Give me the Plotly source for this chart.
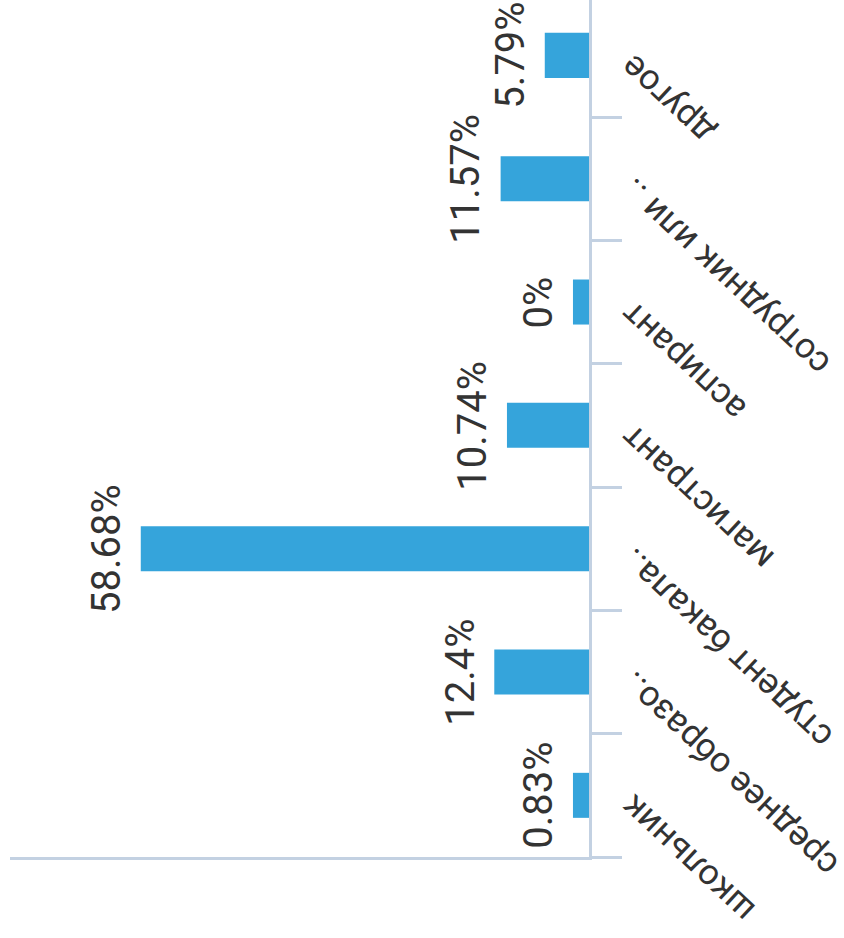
import plotly.graph_objects as go

categories = ["школьник", "среднее образо..", "студент бакала..", "магистрант",
              "аспирант", "сотрудник или ..", "другое"]
values = [0.83, 12.4, 58.68, 10.74, 0, 11.57, 5.79]
labels = ["0.83%", "12.4%", "58.68%", "10.74%", "0%", "11.57%", "5.79%"]

BAR_COLOR = "#35a4db"
AXIS_COLOR = "#c3d1e2"
TEXT_COLOR = "#333333"
FONT = "Roboto"

X_MAX = 75.8
MIN_LEN = 2.1  # minimum visible bar length (like a min bar height option)
display_vals = [max(v, MIN_LEN) for v in values]

fig = go.Figure()
fig.add_trace(go.Bar(
    x=display_vals, y=categories, orientation="h",
    marker=dict(color=BAR_COLOR, line=dict(width=0)),
    hoverinfo="skip",
))

for dv, cat, lab in zip(display_vals, categories, labels):
    fig.add_annotation(
        x=dv, y=cat, xref="x", yref="y", text=lab, showarrow=False,
        textangle=-90, xanchor="right", yanchor="middle", xshift=-9,
        font=dict(family=FONT, size=40, color=TEXT_COLOR),
    )

fig.update_layout(
    width=844, height=938,
    margin=dict(l=10, r=255, t=0, b=81, pad=0, autoexpand=False),
    paper_bgcolor="white", plot_bgcolor="white",
    bargap=0.635, showlegend=False,
    font=dict(family=FONT, color=TEXT_COLOR),
)
fig.update_xaxes(
    range=[X_MAX, 0], showgrid=False, zeroline=False, showticklabels=False,
    ticks="", showline=True, linecolor=AXIS_COLOR, linewidth=2.5, automargin=False,
)
fig.update_yaxes(
    type="category", categoryorder="array", categoryarray=categories,
    range=[-0.5, 6.449], side="right", showgrid=False, zeroline=False,
    showline=True, linecolor=AXIS_COLOR, linewidth=2.5, automargin=False,
    tickson="boundaries", ticks="outside", ticklen=30, tickwidth=2.5, tickcolor=AXIS_COLOR,
    ticklabelposition="inside", ticklabelstandoff=-46, ticklabelshift=16,
    ticklabeloverflow="allow",
    tickangle=-137, tickfont=dict(family=FONT, size=35.5, color=TEXT_COLOR),
)

fig.write_html("out.html")
